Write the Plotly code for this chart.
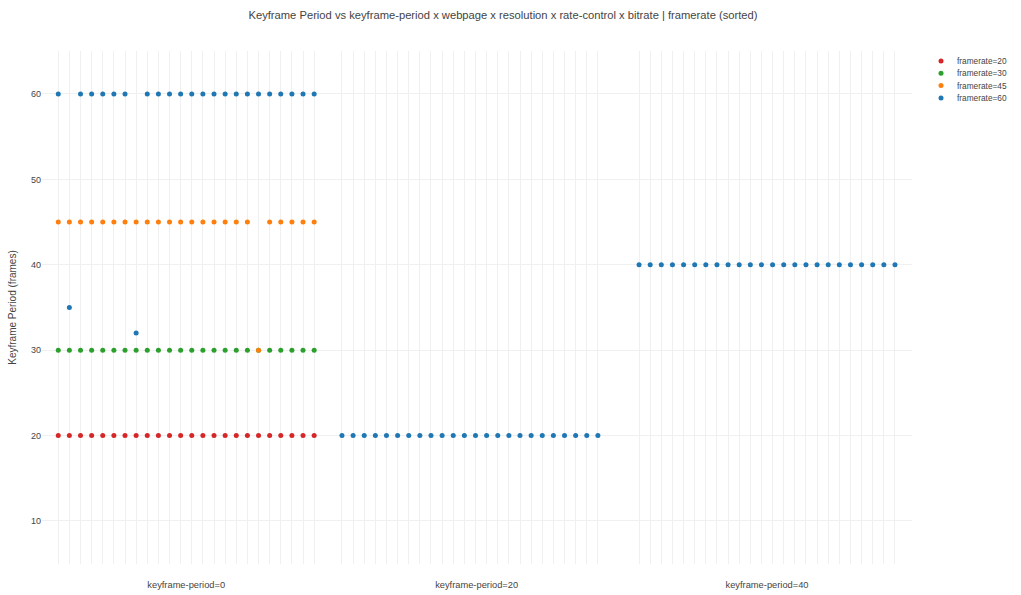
import plotly.graph_objects as go

# ---- data ----
group_labels = ["keyframe-period=0", "keyframe-period=20", "keyframe-period=40"]
columns = list(range(24))  # webpage x resolution x rate-control x bitrate combos per group

# keyframe-period=0 group
g0_fr20 = [20, 20, 20, 20, 20, 20, 20, 20, 20, 20, 20, 20,
           20, 20, 20, 20, 20, 20, 20, 20, 20, 20, 20, 20]
g0_fr30 = [30, 30, 30, 30, 30, 30, 30, 30, 30, 30, 30, 30,
           30, 30, 30, 30, 30, 30, 30, 30, 30, 30, 30, 30]
g0_fr45 = [45, 45, 45, 45, 45, 45, 45, 45, 45, 45, 45, 45,
           45, 45, 45, 45, 45, 45, 30, 45, 45, 45, 45, 45]
g0_fr60 = [60, 35, 60, 60, 60, 60, 60, 32, 60, 60, 60, 60,
           60, 60, 60, 60, 60, 60, 60, 60, 60, 60, 60, 60]
# keyframe-period=20 group
g1_fr60 = [20, 20, 20, 20, 20, 20, 20, 20, 20, 20, 20, 20,
           20, 20, 20, 20, 20, 20, 20, 20, 20, 20, 20, 20]
# keyframe-period=40 group
g2_fr60 = [40, 40, 40, 40, 40, 40, 40, 40, 40, 40, 40, 40,
           40, 40, 40, 40, 40, 40, 40, 40, 40, 40, 40, 40]

series_names = ["framerate=20", "framerate=30", "framerate=45", "framerate=60"]
colors = ["#d62728", "#2ca02c", "#ff7f0e", "#1f77b4"]

# ---- layout positions ----
group_offsets = [0, 25.5, 52.2]
label_pos = [11.5, 37.6, 63.7]

W, H = 1021, 595
ML, MR, MT, MB = 42, 109, 51, 31
PW, PH = W - ML - MR, H - MT - MB

def xs(g):
    return [group_offsets[g] + c for c in columns]

series = [
    [(0, g0_fr20)],
    [(0, g0_fr30)],
    [(0, g0_fr45)],
    [(0, g0_fr60), (1, g1_fr60), (2, g2_fr60)],
]

fig = go.Figure()
for name, color, parts in zip(series_names, colors, series):
    x, y = [], []
    for g, vals in parts:
        x += xs(g)
        y += vals
    fig.add_trace(go.Scatter(x=x, y=y, mode="markers", name=name, showlegend=False,
                             marker=dict(color=color, size=5)))

# compact legend drawn in paper coordinates
leg_dot_x = (941 - ML) / PW
leg_txt_x = (955 - ML) / PW
leg_rows_px = [61, 73.3, 85.6, 97.9]
rx, ry = 2.5 / PW, 2.5 / PH
for name, color, py in zip(series_names, colors, leg_rows_px):
    yp = (H - MB - py) / PH
    fig.add_shape(type="circle", xref="paper", yref="paper",
                  x0=leg_dot_x - rx, x1=leg_dot_x + rx, y0=yp - ry, y1=yp + ry,
                  fillcolor=color, line=dict(width=0))
    fig.add_annotation(x=leg_txt_x, y=yp, xref="paper", yref="paper", text=name,
                       showarrow=False, xanchor="left", yanchor="middle",
                       font=dict(size=8.3, color="#444"))

all_cols = xs(0) + xs(1) + xs(2)
grid = "rgb(240,240,240)"
font_color = "#444"

fig.update_layout(
    width=W, height=H,
    paper_bgcolor="white", plot_bgcolor="white",
    showlegend=False,
    font=dict(family="Liberation Sans, Arial, sans-serif", color=font_color, size=10),
    title=dict(text="Keyframe Period vs keyframe-period x webpage x resolution x rate-control x bitrate | framerate (sorted)",
               x=503 / W, xanchor="center", y=1 - 15 / H, yanchor="middle",
               font=dict(size=11.2, color=font_color)),
    margin=dict(l=ML, r=MR, t=MT, b=MB, autoexpand=False),
    xaxis=dict(range=[-1.46, 76.73], tickmode="array", tickvals=label_pos,
               ticktext=group_labels, showgrid=False, zeroline=False, showline=False,
               automargin=False,
               ticks="", ticklabelstandoff=14, tickfont=dict(size=9.3),
               minor=dict(tickmode="array", tickvals=all_cols, showgrid=True,
                          gridcolor=grid, gridwidth=1, ticks="")),
    yaxis=dict(range=[4.96, 65.03], dtick=10, tick0=0, showgrid=True, gridcolor=grid,
               zeroline=False, showline=False, tickfont=dict(size=9), automargin=False,
               title=dict(text="Keyframe Period (frames)", font=dict(size=10), standoff=12)),
)

fig.write_html("out.html", config={"displayModeBar": False},
               post_script="document.body.style.margin='0';document.body.style.overflow='hidden';")
